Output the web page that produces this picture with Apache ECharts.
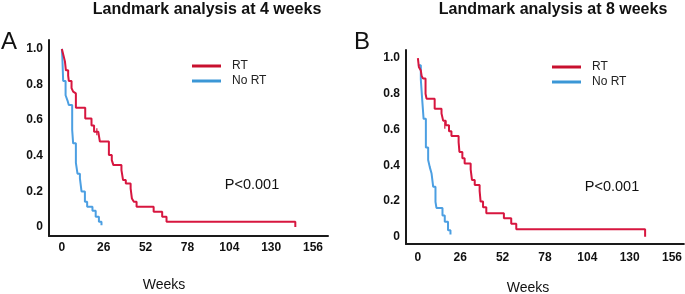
<!DOCTYPE html>
<html>
<head>
<meta charset="utf-8">
<script src="https://cdn.jsdelivr.net/npm/echarts@6/dist/echarts.min.js"></script>
<style>
    html, body {margin: 0; padding: 0; background: #fff;}
    #chart {width: 685px; height: 294px;}
</style>
</head>
<body>
<div id="chart"></div>
<script>
// Panel A: landmark at 4 weeks
const weeksRtA = [0, 0.8, 1.9, 2.5, 3.9, 4.3, 6.0, 7.0, 8.1, 8.7, 14.5, 18.4, 20.0, 22.6, 23.6, 29.2, 31.0, 32.0, 37.0, 38.0, 39.7, 42.7, 43.5, 44.7, 46.4, 57.0, 62.3, 65.0, 145.0];
const survRtA = [1.0, 0.97, 0.93, 0.88, 0.85, 0.82, 0.78, 0.76, 0.75, 0.67, 0.61, 0.57, 0.535, 0.525, 0.48, 0.405, 0.376, 0.348, 0.32, 0.264, 0.245, 0.217, 0.16, 0.142, 0.114, 0.086, 0.058, 0.03, 0.0];
const weeksNoRtA = [0, 0.3, 0.8, 2.3, 3.5, 4.3, 6.4, 7.0, 8.7, 9.7, 11.2, 12.2, 14.3, 15.7, 19.0, 21.0, 23.0, 24.6];
const survNoRtA = [1.0, 0.95, 0.82, 0.74, 0.71, 0.685, 0.545, 0.47, 0.36, 0.30, 0.273, 0.20, 0.142, 0.114, 0.092, 0.058, 0.03, 0.01];
const censorWeeksA = [21.7];
const censorSurvA = [0.535];

// Panel B: landmark at 8 weeks
const weeksRtB = [0, 0.6, 1.8, 2.3, 3.2, 4.7, 5.3, 10.3, 14.5, 15.5, 17.1, 19.1, 20.6, 25.0, 25.5, 27.3, 28.7, 32.4, 33.2, 34.9, 37.9, 38.5, 40.0, 42.0, 52.8, 57.3, 60.4, 139.5];
const survRtB = [1.0, 0.95, 0.93, 0.90, 0.885, 0.80, 0.773, 0.717, 0.69, 0.65, 0.624, 0.59, 0.564, 0.53, 0.475, 0.44, 0.41, 0.378, 0.318, 0.29, 0.257, 0.197, 0.166, 0.132, 0.104, 0.073, 0.043, 0.0];
const weeksNoRtB = [0, 1.8, 2.6, 3.5, 4.9, 6.3, 7.3, 8.4, 9.4, 10.8, 11.4, 15.1, 16.5, 18.5, 20.0];
const survNoRtB = [0.96, 0.88, 0.773, 0.66, 0.50, 0.43, 0.39, 0.354, 0.28, 0.196, 0.162, 0.12, 0.084, 0.037, 0.013];
const censorWeeksB = [16.5];
const censorSurvB = [0.624];

const xTicks = [0, 26, 52, 78, 104, 130, 156];
const yTicks = [0, 0.2, 0.4, 0.6, 0.8, 1.0];
const groups = ['RT', 'No RT'];
const panelTitles = ['Landmark analysis at 4 weeks', 'Landmark analysis at 8 weeks'];
const panelLetters = ['A', 'B'];
const pText = 'P<0.001';

const RED = '#d7163f';
const BLUE = '#4c9fe2';
const FONT = '"Liberation Sans", Arial, sans-serif';

function pairs(xs, ys) {
    return xs.map((x, i) => [x, ys[i]]);
}

function xAxisFor(idx, min, max) {
    return {
        type: 'value', gridIndex: idx, min: min, max: max,
        axisLine: {show: true, onZero: false, lineStyle: {color: '#1a1a1a', width: 2}},
        axisTick: {show: false},
        splitLine: {show: false},
        axisLabel: {
            customValues: xTicks, margin: idx === 0 ? 6 : 8,
            color: '#111', fontWeight: 'bold', fontSize: 12, fontFamily: FONT
        }
    };
}

function yAxisFor(idx, min, max) {
    return {
        type: 'value', gridIndex: idx, min: min, max: max,
        axisLine: {show: true, onZero: false, lineStyle: {color: '#1a1a1a', width: 2}},
        axisTick: {show: false},
        splitLine: {show: false},
        axisLabel: {
            customValues: yTicks, margin: 6,
            color: '#111', fontWeight: 'bold', fontSize: 12, fontFamily: FONT,
            formatter: v => (Math.abs(v) < 1e-9 ? '0' : v.toFixed(1))
        }
    };
}

function kmSeries(name, idx, data, color) {
    return {
        name: name, type: 'line', step: 'end',
        xAxisIndex: idx, yAxisIndex: idx,
        data: data, showSymbol: false, symbol: 'none',
        lineStyle: {color: color, width: 2},
        itemStyle: {color: color},
        animation: false
    };
}

// small vertical ticks for censored patients
function censorSeries(idx, data, color) {
    return {
        type: 'scatter', xAxisIndex: idx, yAxisIndex: idx,
        data: data, symbol: 'rect', symbolSize: [1.5, 7],
        itemStyle: {color: color}, silent: true, animation: false
    };
}

function legendFor(idx, left, top) {
    return {
        orient: 'vertical', left: left, top: top, padding: 0,
        icon: 'rect', itemWidth: 29, itemHeight: 3, itemGap: 3,
        data: [
            {name: groups[0], itemStyle: {color: '#c8102e'}},
            {name: groups[1], itemStyle: {color: '#3b97d6'}}
        ],
        textStyle: {color: '#222', fontSize: 12, fontFamily: FONT, padding: [0, 0, 0, 6]},
        selectedMode: false
    };
}

function text(str, x, y, size, weight, align) {
    return {
        type: 'text', x: x, y: y,
        style: {
            text: str, fill: '#111', fontSize: size, fontWeight: weight || 'normal',
            fontFamily: FONT, textAlign: align || 'center', textVerticalAlign: 'middle'
        }
    };
}

const chart = echarts.init(document.getElementById('chart'));
chart.setOption({
    backgroundColor: '#fff',
    grid: [
        {left: 49, top: 40, width: 279, height: 196},
        {left: 406, top: 50, width: 279, height: 194}
    ],
    xAxis: [xAxisFor(0, -8, 165.3), xAxisFor(1, -7.3, 163.3)],
    yAxis: [yAxisFor(0, -0.05, 1.05), yAxisFor(1, -0.04, 1.045)],
    legend: [legendFor(0, 192, 60), legendFor(1, 552, 61)],
    series: [
        kmSeries(groups[1], 0, pairs(weeksNoRtA, survNoRtA), BLUE),
        kmSeries(groups[0], 0, pairs(weeksRtA, survRtA), RED),
        censorSeries(0, pairs(censorWeeksA, censorSurvA), RED),
        kmSeries(groups[1], 1, pairs(weeksNoRtB, survNoRtB), BLUE),
        kmSeries(groups[0], 1, pairs(weeksRtB, survRtB), RED),
        censorSeries(1, pairs(censorWeeksB, censorSurvB), RED)
    ],
    graphic: [
        text(panelTitles[0], 207, 10, 16, 'bold'),
        text(panelTitles[1], 553, 10, 16, 'bold'),
        text(panelLetters[0], 9, 42, 24),
        text(panelLetters[1], 362, 42, 24),
        text(pText, 252, 185, 14.5),
        text(pText, 612, 187, 14.5),
        text('Weeks', 164, 285, 14),
        text('Weeks', 528, 288, 14)
    ]
});
</script>
</body>
</html>
